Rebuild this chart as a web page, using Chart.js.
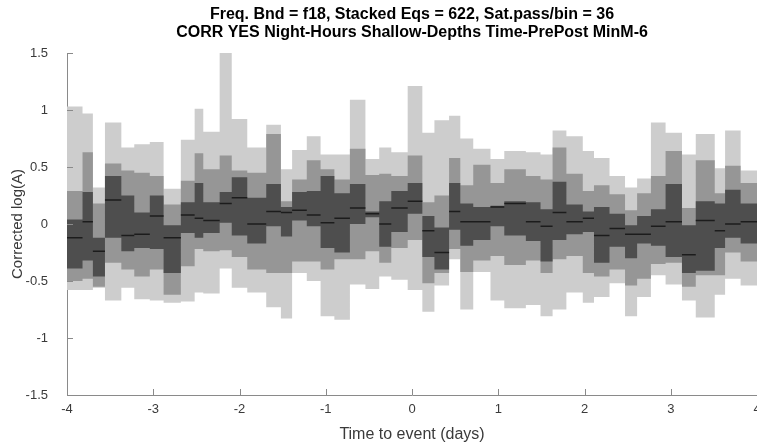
<!DOCTYPE html>
<html>
<head>
<meta charset="utf-8">
<script src="https://cdn.jsdelivr.net/npm/chart.js@4/dist/chart.umd.min.js"></script>
<style>
  html, body { margin: 0; padding: 0; background: #fff; }
  #wrap { width: 757px; height: 444px; }
</style>
</head>
<body>
<div id="wrap"><canvas id="des"></canvas></div>
<script>
// bin edges (days), 36 passes per bin -> uneven widths
var edges = [-4, -3.82, -3.70, -3.56, -3.37, -3.22, -3.04, -2.88, -2.68, -2.52, -2.42, -2.23, -2.09, -1.91, -1.69, -1.52,
  -1.39, -1.22, -1.06, -0.90, -0.72, -0.54, -0.38, -0.24, -0.05, 0.12, 0.26, 0.43, 0.56, 0.71, 0.91, 1.07,
  1.32, 1.49, 1.63, 1.79, 1.98, 2.11, 2.29, 2.47, 2.61, 2.77, 2.94, 3.13, 3.29, 3.51, 3.63, 3.81, 4];

var lightHi = [1.03, 0.97, 0.32, 0.89, 0.67, 0.70, 0.72, 0.31, 0.74, 1.01, 0.81, 1.5, 0.92, 0.67, 0.87, 0.48,
  0.65, 0.77, 0.61, 0.61, 1.09, 0.57, 0.67, 0.63, 1.21, 0.80, 0.91, 0.95, 0.75, 0.66, 0.57, 0.64,
  0.63, 0.61, 0.82, 0.77, 0.64, 0.58, 0.42, 0.32, 0.40, 0.89, 0.80, 0.61, 0.79, 0.49, 0.82, 0.47];
var midHi = [0.29, 0.63, 0.18, 0.53, 0.47, 0.45, 0.42, 0.17, 0.38, 0.62, 0.48, 0.60, 0.47, 0.45, 0.79, 0.20,
  0.39, 0.56, 0.48, 0.39, 0.66, 0.43, 0.44, 0.42, 0.60, 0.19, 0.25, 0.58, 0.34, 0.52, 0.36, 0.48,
  0.42, 0.39, 0.67, 0.44, 0.29, 0.34, 0.26, 0.12, 0.27, 0.42, 0.64, 0.14, 0.56, 0.27, 0.51, 0.36];
var darkHi = [0.04, 0.28, -0.12, 0.42, 0.25, 0.10, 0.25, -0.01, 0.19, 0.36, 0.19, 0.28, 0.41, 0.23, 0.35, 0.15,
  0.28, 0.29, 0.42, 0.27, 0.35, 0.11, 0.20, 0.29, 0.36, 0.07, -0.03, 0.36, 0.18, 0.15, 0.16, 0.20,
  0.19, 0.13, 0.37, 0.17, 0.11, 0.15, 0.09, -0.01, 0.07, 0.13, 0.35, -0.01, 0.20, 0.18, 0.30, 0.18];
var median = [-0.12, 0.02, -0.24, 0.21, -0.10, -0.09, 0.07, -0.12, 0.08, 0.05, 0.03, 0.18, 0.23, 0.00, 0.11, 0.10,
  0.12, 0.08, 0.01, 0.05, 0.14, 0.09, 0.00, 0.14, 0.20, -0.06, -0.25, 0.11, 0.02, 0.02, 0.15, 0.18,
  0.02, -0.02, 0.10, 0.02, 0.05, -0.10, -0.04, -0.09, -0.09, -0.02, 0.02, -0.27, 0.03, -0.06, 0.00, 0.02];
var darkLo = [-0.39, -0.32, -0.46, -0.12, -0.24, -0.21, -0.22, -0.43, -0.08, -0.12, -0.08, 0.01, -0.10, -0.17, -0.02, -0.11,
  0.03, -0.02, -0.21, -0.25, 0.00, 0.06, -0.20, -0.07, 0.09, -0.29, -0.40, -0.05, -0.19, -0.14, -0.02, -0.10,
  -0.15, -0.33, -0.14, -0.09, -0.07, -0.34, -0.20, -0.30, -0.17, -0.19, -0.29, -0.43, -0.41, -0.21, -0.12, -0.17];
var midLo = [-0.50, -0.48, -0.55, -0.34, -0.40, -0.46, -0.40, -0.62, -0.37, -0.22, -0.24, -0.23, -0.29, -0.40, -0.43, -0.43,
  -0.33, -0.33, -0.40, -0.31, -0.31, -0.24, -0.34, -0.21, -0.14, -0.52, -0.43, -0.22, -0.42, -0.32, -0.28, -0.36,
  -0.32, -0.43, -0.31, -0.28, -0.43, -0.46, -0.40, -0.54, -0.48, -0.35, -0.34, -0.55, -0.45, -0.45, -0.25, -0.33];
var lightLo = [-0.58, -0.58, -0.56, -0.67, -0.56, -0.66, -0.67, -0.69, -0.68, -0.60, -0.61, -0.39, -0.56, -0.60, -0.73, -0.83,
  -0.43, -0.50, -0.81, -0.84, -0.53, -0.57, -0.46, -0.49, -0.58, -0.77, -0.54, -0.31, -0.75, -0.42, -0.67, -0.74,
  -0.71, -0.81, -0.75, -0.60, -0.69, -0.64, -0.52, -0.81, -0.64, -0.45, -0.53, -0.67, -0.82, -0.62, -0.48, -0.54];

var xTicks = [-4, -3, -2, -1, 0, 1, 2, 3, 4];
var yTicks = [-1.5, -1, -0.5, 0, 0.5, 1, 1.5];

// step outline: value of bin i holds from edges[i] to edges[i+1]
function steps(arr) {
  return edges.map(function (x, i) {
    return { x: x, y: arr[Math.min(i, arr.length - 1)] };
  });
}
// median: one flat segment per bin, broken between bins
function medSegs() {
  var pts = [];
  median.forEach(function (m, i) {
    pts.push({ x: edges[i], y: m });
    pts.push({ x: edges[i + 1], y: m });
    pts.push({ x: edges[i + 1], y: null });
  });
  return pts;
}

function band(arr, color, fill, order) {
  return {
    data: steps(arr), stepped: true, fill: fill, order: order,
    backgroundColor: color, borderWidth: 0, pointRadius: 0
  };
}

// inward ticks like matlab
var inTicks = {
  id: 'inTicks',
  afterDraw: function (chart) {
    var c = chart.ctx, a = chart.chartArea;
    var sx = chart.scales.x, sy = chart.scales.y;
    c.save();
    c.strokeStyle = '#8a8a8a';
    c.lineWidth = 1;
    c.beginPath();
    xTicks.forEach(function (t) {
      var px = Math.round(sx.getPixelForValue(t)) + 0.5;
      c.moveTo(px, a.bottom); c.lineTo(px, a.bottom - 6);
    });
    yTicks.forEach(function (t) {
      var py = Math.round(sy.getPixelForValue(t)) + 0.5;
      c.moveTo(a.left, py); c.lineTo(a.left + 6, py);
    });
    c.stroke();
    c.restore();
  }
};

var ctx = document.querySelector('#des');
var chart = new Chart(ctx, {
  type: 'line',
  data: {
    datasets: [
      { data: medSegs(), order: 0, borderColor: '#1c1c1c', borderWidth: 1.5, pointRadius: 0, spanGaps: false, fill: false },
      band(darkHi, '#4e4e4e', '+1', 1),
      band(darkLo, '#4e4e4e', false, 1),
      band(midHi, '#969696', '+1', 2),
      band(midLo, '#969696', false, 2),
      band(lightHi, '#cdcdcd', '+1', 3),
      band(lightLo, '#cdcdcd', false, 3)
    ]
  },
  options: {
    responsive: true,
    maintainAspectRatio: false,
    animation: false,
    layout: { padding: { left: 0, right: -2, top: 0, bottom: 0 } },
    plugins: {
      legend: { display: false },
      tooltip: { enabled: false },
      title: {
        display: true,
        fullSize: false,
        text: ['Freq. Bnd = f18, Stacked Eqs = 622, Sat.pass/bin = 36',
               'CORR YES Night-Hours Shallow-Depths Time-PrePost MinM-6'],
        color: '#000',
        font: { family: 'Liberation Sans', size: 16, weight: 'bold', lineHeight: '18px' },
        padding: { top: 6, bottom: 11 }
      }
    },
    scales: {
      x: {
        type: 'linear', min: -4, max: 4,
        afterFit: function (s) { s.height = 49; s.paddingLeft = 0; s.paddingRight = 0; },
        afterBuildTicks: function (s) { s.ticks = xTicks.map(function (v) { return { value: v }; }); },
        grid: { drawOnChartArea: false, drawTicks: false },
        border: { color: '#8a8a8a', width: 1 },
        ticks: { color: '#3a3a3a', padding: 7, maxRotation: 0, font: { family: 'Liberation Sans', size: 13 },
                 callback: function (v) { return String(v); } },
        title: { display: true, text: 'Time to event (days)', color: '#3a3a3a',
                 font: { family: 'Liberation Sans', size: 16 }, padding: { top: 3, bottom: 0 } }
      },
      y: {
        min: -1.5, max: 1.5,
        afterFit: function (s) { s.width = 67; },
        afterBuildTicks: function (s) { s.ticks = yTicks.map(function (v) { return { value: v }; }); },
        grid: { drawOnChartArea: false, drawTicks: false },
        border: { color: '#8a8a8a', width: 1 },
        ticks: { color: '#3a3a3a', padding: 19, font: { family: 'Liberation Sans', size: 13 },
                 callback: function (v) { return String(v); } },
        title: { display: true, text: 'Corrected log(A)', color: '#3a3a3a',
                 font: { family: 'Liberation Sans', size: 15 }, padding: { top: 9, bottom: 0 } }
      }
    }
  },
  plugins: [inTicks]
});
</script>
</body>
</html>
